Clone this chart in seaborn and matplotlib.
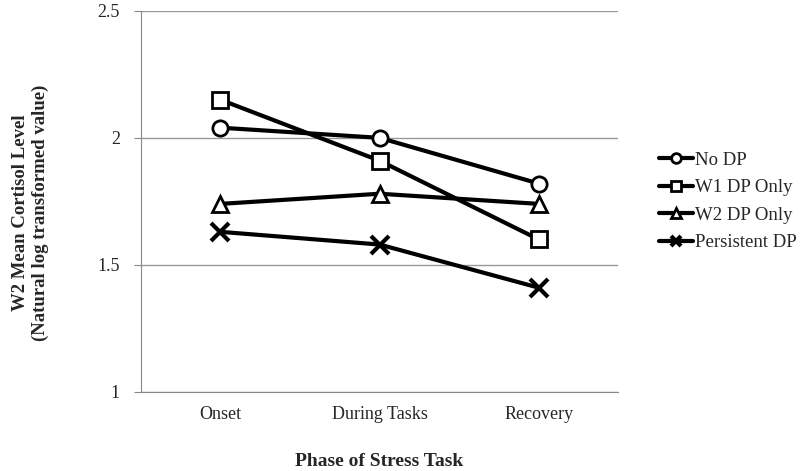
import pandas as pd
import seaborn as sns
import matplotlib.pyplot as plt
import numpy as np

phases = ["Onset", "During Tasks", "Recovery"]
groups = ["No DP", "W1 DP Only", "W2 DP Only", "Persistent DP"]
no_dp = [2.04, 2.00, 1.82]
w1_only = [2.15, 1.91, 1.60]
w2_only = [1.74, 1.78, 1.74]
persistent = [1.63, 1.58, 1.41]

data = pd.DataFrame({
    "phase": phases * 4,
    "group": [g for g in groups for _ in phases],
    "cortisol": no_dp + w1_only + w2_only + persistent,
})

sns.set_style("white")
plt.rcParams["font.family"] = ["Liberation Serif", "DejaVu Serif"]
plt.rcParams["font.size"] = 13

fig = plt.figure(figsize=(8, 4.71), dpi=100)
ax = fig.add_axes([0.176, 0.168, 0.597, 0.809])

ax = sns.lineplot(data=data, x="phase", y="cortisol", hue="group", style="group",
                  palette=["black"] * 4, markers=["o", "s", "^", "X"], dashes=False,
                  linewidth=3, markersize=11, markerfacecolor="white",
                  markeredgecolor="black", markeredgewidth=2, ax=ax)
# seaborn won't mix filled and line markers, so swap to a plain x afterwards
ax.lines[3].set_marker("x")
ax.lines[3].set_markeredgewidth(3)
ax.lines[3].set_markersize(13)

ax.set_ylim(1, 2.5)
ax.set_yticks([1, 1.5, 2, 2.5])
ax.set_yticklabels(["1", "1.5", "2", "2.5"])
ax.set_xlim(-0.5, 2.5)
ax.set_xticks([0, 1, 2])
ax.set_xticklabels(phases)
ax.set_xticks([-0.5, 0.5, 1.5, 2.5], minor=True)
ax.tick_params(axis="x", which="major", length=0, pad=10, labelsize=13)
ax.tick_params(axis="x", which="minor", length=5, color="#888888", direction="out")
ax.tick_params(axis="y", length=5, color="#888888", direction="out", left=True, pad=10, labelsize=13)
ax.grid(axis="y", color="#999999", linewidth=1)
ax.set_axisbelow(True)
for side in ["top", "right"]:
    ax.spines[side].set_visible(False)
for side in ["left", "bottom"]:
    ax.spines[side].set_color("#888888")

ax.set_xlabel("Phase of Stress Task", fontweight="bold", fontsize=14, labelpad=22)
ax.set_ylabel("W2 Mean Cortisol Level\n(Natural log transformed value)", fontweight="bold",
              fontsize=13.5)
ax.yaxis.set_label_coords(-0.193, 0.47)

handles, labels = ax.get_legend_handles_labels()
for h in handles:
    h.set_markersize(7)
handles[3].set_marker("x")
handles[3].set_markeredgewidth(3)
ax.legend(handles, labels, loc="center left", bbox_to_anchor=(1.05, 0.5), frameon=False,
          fontsize=13.5, handlelength=1.8, handletextpad=0.1, labelspacing=0.55)

plt.savefig("out.png", dpi=100)
